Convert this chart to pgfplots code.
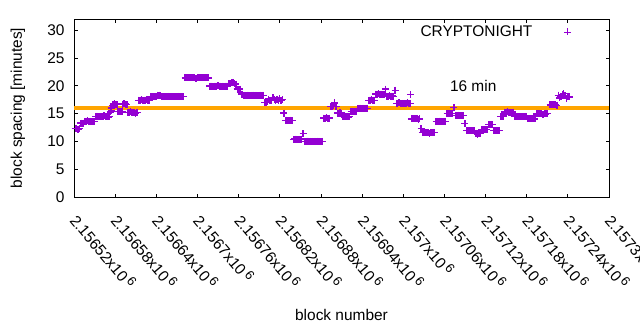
\documentclass[border=0pt]{standalone}
\usepackage{pgfplots}
\pgfplotsset{compat=1.18}
\usepackage{fontspec}
\setmainfont{Liberation Sans}
\definecolor{gpurple}{RGB}{148,0,211}
\definecolor{gorange}{RGB}{255,165,0}
\pgfplotsset{mylegimg/.style={legend image code/.code={\path (0bp,0bp) (40bp,0bp);\draw[mark repeat=2,mark phase=2,##1,mark options={line width=0.9bp}] plot coordinates {(0bp,0bp)(33bp,0bp)(66bp,0bp)};}}}
\newcommand{\sx}{\,\raisebox{0.3em}{\fontsize{13}{13}\selectfont 6}}
\begin{document}
\begin{tikzpicture}[font=\fontsize{15.5}{18}\selectfont]
\useasboundingbox (-74bp,-133bp) rectangle (566bp,197bp);
\begin{axis}[
 at={(0,0)}, anchor=south west, scale only axis, width=535bp, height=178bp,
 xmin=0, xmax=780, ymin=0, ymax=32,
 xtick={0,60,...,780},
 xticklabels={2.15652x10\sx,2.15658x10\sx,2.15664x10\sx,2.1567x10\sx,2.15676x10\sx,2.15682x10\sx,2.15688x10\sx,2.15694x10\sx,2.157x10\sx,2.15706x10\sx,2.15712x10\sx,2.15718x10\sx,2.15724x10\sx,2.1573x10\sx},
 ytick={0,5,...,30},
 tick align=inside, major tick length=3.5bp,
 tick style={black, line width=0.8bp},
 axis line style={line width=0.8bp},
 xticklabel style={rotate=-50, anchor=west, xshift=11.7bp, yshift=-12.5bp},
 yticklabel style={xshift=-6bp},
 /pgf/number format/assume math mode=true,
 ylabel={block spacing [minutes]},
 ylabel style={at={(axis description cs:-0.105,0.5)}, anchor=center},
 xlabel={block number},
 xlabel style={at={(axis description cs:0.5,-0.663)}, anchor=center},
 legend plot pos=right,
 legend style={draw=none, fill=none, at={(rel axis cs:0.942,0.985)}, anchor=north east},
]
\addplot[only marks, mark=+, gpurple, mark size=3.5bp, mark options={line width=1.4bp}, mylegimg]
coordinates {
(2,12.3)(4,12.3)(6,12.2)(8,12.3)
(10,13.3)(12,13.2)(14,13.3)
(16,13.6)(18,13.6)(20,13.7)(22,13.6)(24,13.6)(26,13.5)(28,13.6)(30,13.6)
(32,14.5)(34,14.5)(36,14.4)(38,14.5)(40,14.5)(42,14.5)(44,14.6)(46,14.5)(48,14.5)(50,14.4)(52,14.5)
(53,15.3)(54,16.0)(55,15.6)(56,16.5)
(57,16.7)(59,16.8)(61,16.7)(63,16.6)
(64,15.4)(66,15.4)(68,15.3)(70,15.4)
(71,16.7)(73,16.8)(75,16.7)(77,16.6)
(78,15.2)(80,15.2)(82,15.3)(84,15.2)(86,15.2)(88,15.2)(90,15.1)(92,15.2)
(94,17.4)(96,17.4)(98,17.5)(100,17.4)(102,17.4)(104,17.4)(106,17.5)(108,17.4)(110,17.4)
(112,18.0)(114,18.05)(116,18.05)(118,18.1)(120,18.05)(122,18.3)(124,18.3)(126,18.2)(128,18.05)(130,18.0)(132,18.05)(134,18.05)(136,18.05)(138,18.1)(140,18.05)(142,18.0)(144,18.05)(146,18.05)(148,18.05)(150,18.05)(152,18.1)(154,18.05)(156,18.05)(158,18.05)(160,18.05)
(162,21.4)(164,21.4)(166,21.4)(168,21.45)(170,21.4)(172,21.4)(174,21.4)(176,21.4)(178,21.35)(180,21.4)(182,21.4)(184,21.4)(186,21.4)(188,21.4)(190,21.45)(192,21.4)(194,21.4)(196,21.4)
(198,19.95)(200,19.95)(202,19.9)(204,19.95)(206,19.95)(208,19.95)(210,20.0)(212,19.95)(214,19.95)(216,19.95)(218,19.9)(220,19.95)(222,19.95)(224,19.95)
(226,20.4)(228,20.4)(230,20.5)(232,20.6)(234,20.4)(236,20.3)
(238,19.4)(240,19.3)(242,19.4)
(244,18.5)(246,18.5)
(248,18.25)(250,18.25)(252,18.3)(254,18.25)(256,18.2)(258,18.25)(260,18.25)(262,18.3)(264,18.25)(266,18.25)(268,18.2)(270,18.25)(272,18.3)(274,18.25)(276,18.25)
(278,17.0)(280,17.0)(282,17.1)
(284,17.6)(286,17.3)(288,17.4)(290,17.8)(292,17.5)(294,17.3)(296,17.6)(298,17.4)(300,17.7)(302,17.3)(304,17.5)
(306,15.1)
(308,13.75)(310,13.8)(312,13.7)(314,13.75)(316,13.8)(318,13.75)
(320,10.35)(322,10.4)(324,10.35)(326,10.3)(328,10.35)(330,10.35)(332,10.4)
(334,11.4)
(336,10.0)(338,10.0)(340,10.05)(342,10.0)(344,10.0)(346,9.95)(348,10.0)(350,10.0)(352,10.0)(354,10.05)(356,10.0)(358,10.0)(360,9.95)(362,10.0)
(364,14.2)(366,14.2)(368,14.3)(370,14.2)(372,14.2)
(374,16.3)(376,16.3)(378,16.4)(380,16.9)(382,16.3)
(384,15.1)(386,15.1)(388,15.2)(390,15.1)
(392,14.5)(394,14.4)(396,14.5)(398,14.5)(400,14.4)(402,14.5)
(404,15.4)(406,15.4)(408,15.35)(410,15.4)(412,15.4)
(414,15.95)(416,15.95)(418,16.0)(420,15.95)(422,15.95)(424,15.9)(426,15.95)(428,15.95)
(430,17.4)(432,17.4)(434,17.45)(436,17.4)(438,17.4)
(440,18.5)(442,18.5)(444,18.6)(446,18.5)(448,18.5)(450,18.45)(452,18.5)
(454,19.4)
(456,18.15)(458,18.15)(460,18.2)(462,18.15)(464,18.15)(466,18.1)
(468,19.2)
(470,16.85)(472,16.85)(474,16.9)(476,16.85)(478,16.85)(480,16.8)(482,16.85)(484,16.85)(486,16.9)(488,16.85)(490,16.85)
(491,18.4)
(492,14.05)(494,14.05)(496,14.1)(498,14.05)(500,14.05)(502,14.0)(504,14.05)
(506,12.3)
(508,11.55)(510,11.55)(512,11.6)(514,11.55)(516,11.55)(518,11.5)(520,11.55)(522,11.55)(524,11.6)(526,11.55)
(528,13.6)(530,13.6)(532,13.65)(534,13.6)(536,13.6)(538,13.55)(540,13.6)(542,13.6)
(544,15.05)(546,15.05)(548,15.1)(550,15.05)(552,15.05)
(554,16.1)
(556,14.65)(558,14.65)(560,14.7)(562,14.65)(564,14.65)(566,14.6)(568,14.65)
(570,13.2)
(572,11.95)(574,11.95)(576,12.0)(578,11.95)(580,11.95)(582,11.9)(584,11.95)
(586,11.5)(588,11.2)(590,11.5)(592,11.5)
(594,12.1)(596,12.1)(598,12.15)(600,12.1)(602,12.1)
(604,13.0)(606,13.0)(608,13.05)(610,13.0)
(612,11.95)(614,11.95)(616,12.0)(618,11.95)(620,11.95)
(622,14.45)(624,14.45)(626,14.5)
(628,15.25)(630,15.25)(632,15.3)(634,15.25)(636,15.25)(638,15.2)(640,15.25)
(642,14.45)(644,14.45)(646,14.5)(648,14.45)(650,14.45)(652,14.4)(654,14.45)(656,14.45)(658,14.5)(660,14.45)
(662,14.1)(664,14.1)(666,14.15)(668,14.1)(670,14.1)(672,14.05)
(674,14.95)(676,14.95)(678,15.0)(680,14.95)(682,14.95)(684,14.9)(686,14.95)(688,14.95)(690,15.0)
(694,16.55)(696,16.55)(698,16.6)(700,16.55)(702,16.55)(704,16.5)
(706,18.3)(708,17.8)(710,18.0)(712,18.4)(714,18.6)(716,18.2)(718,17.7)(720,18.1)(722,18.0)
};
\addlegendentry{CRYPTONIGHT}
\addplot[gorange, line width=4bp, forget plot] coordinates {(0,16)(780,16)};
\node[anchor=center] at (axis cs:582,20.0) {16 min};
\end{axis}
\end{tikzpicture}
\end{document}
